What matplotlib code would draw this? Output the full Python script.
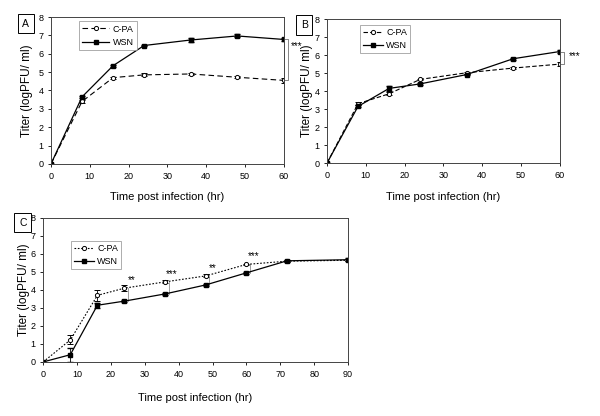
import matplotlib
matplotlib.use('Agg')
import matplotlib.pyplot as plt
from matplotlib.lines import Line2D

plt.rcParams['font.family'] = ['Liberation Sans', 'DejaVu Sans']

# panel A
time_a = [0, 8, 16, 24, 36, 48, 60]
cpa_a = [0, 3.4, 4.7, 4.85, 4.9, 4.72, 4.55]
cpa_a_err = [0, 0.08, 0.05, 0.08, 0.05, 0.05, 0.12]
wsn_a = [0, 3.65, 5.35, 6.45, 6.75, 6.97, 6.78]
wsn_a_err = [0, 0.05, 0.05, 0.05, 0.1, 0.08, 0.08]

# panel B
time_b = [0, 8, 16, 24, 36, 48, 60]
cpa_b = [0, 3.3, 3.85, 4.65, 5.02, 5.28, 5.5]
cpa_b_err = [0, 0.08, 0.08, 0.05, 0.05, 0.05, 0.12]
wsn_b = [0, 3.15, 4.15, 4.4, 4.92, 5.8, 6.2]
wsn_b_err = [0, 0.05, 0.15, 0.05, 0.05, 0.05, 0.08]

# panel C
time_c = [0, 8, 16, 24, 36, 48, 60, 72, 90]
cpa_c = [0, 1.22, 3.7, 4.1, 4.45, 4.78, 5.42, 5.6, 5.65]
cpa_c_err = [0, 0.25, 0.3, 0.15, 0.08, 0.08, 0.05, 0.05, 0.05]
wsn_c = [0, 0.4, 3.15, 3.38, 3.78, 4.28, 4.95, 5.62, 5.68]
wsn_c_err = [0, 0.4, 0.15, 0.05, 0.05, 0.05, 0.05, 0.05, 0.08]
sig_c = {24: '**', 36: '***', 48: '**', 60: '***'}

fig = plt.figure(figsize=(6, 4.16), dpi=100)
ax_a = fig.add_axes([0.085, 0.606, 0.388, 0.353])
ax_b = fig.add_axes([0.545, 0.608, 0.388, 0.346])
ax_c = fig.add_axes([0.072, 0.130, 0.508, 0.346])


def draw(ax, t, cpa, cpa_err, wsn, wsn_err, cpa_style, xmax, xstep,
         ylab_x, xlab_y, leg_anchor, hlen):
    ax.errorbar(t, cpa, yerr=cpa_err, color='black', ls=cpa_style, lw=0.8,
                marker='o', ms=3, mfc='white', mec='black', mew=0.7,
                elinewidth=0.6, capsize=2)
    ax.errorbar(t, wsn, yerr=wsn_err, color='black', ls='-', lw=0.9,
                marker='s', ms=3.5, mfc='black', mec='black',
                elinewidth=0.6, capsize=2)
    ax.set_xlim(0, xmax)
    ax.set_ylim(0, 8)
    ax.set_xticks(range(0, xmax + 1, xstep))
    ax.set_yticks(range(0, 9))
    ax.tick_params(labelsize=6.5, length=2, width=0.6)
    for s in ax.spines.values():
        s.set_linewidth(0.7)
        s.set_color('#444444')
    ax.set_ylabel('Titer (logPFU/ ml)', fontsize=8.5)
    ax.yaxis.set_label_coords(ylab_x, 0.5)
    ax.set_xlabel('Time post infection (hr)', fontsize=8)
    ax.xaxis.set_label_coords(0.5, xlab_y)
    handles = [
        Line2D([], [], color='black', ls=cpa_style, lw=0.8, marker='o', ms=3,
               mfc='white', mec='black', mew=0.7),
        Line2D([], [], color='black', ls='-', lw=0.9, marker='s', ms=3.5,
               mfc='black', mec='black'),
    ]
    leg = ax.legend(handles, ['C-PA', 'WSN'], loc='upper left', fontsize=6.5,
                    frameon=True, fancybox=False, edgecolor='#888888',
                    handlelength=hlen, handletextpad=0.4, borderpad=0.35,
                    labelspacing=0.45, borderaxespad=0,
                    bbox_to_anchor=leg_anchor)
    leg.get_frame().set_linewidth(0.6)


def bracket(ax, x, y1, y2, text, dx, tx, ty):
    ax.plot([x, x + dx, x + dx, x], [y1, y1, y2, y2], color='#555555', lw=0.5,
            clip_on=False)
    ax.text(tx, ty, text, fontsize=7, ha='left', va='center')


draw(ax_a, time_a, cpa_a, cpa_a_err, wsn_a, wsn_a_err, (0, (5, 3)), 60, 10,
     -0.078, -0.193, (0.12, 0.97), 3)
bracket(ax_a, 60, wsn_a[-1], cpa_a[-1], '***', 1.2, 61.8, 6.4)

draw(ax_b, time_b, cpa_b, cpa_b_err, wsn_b, wsn_b_err, (0, (4, 2)), 60, 10,
     -0.06, -0.2, (0.14, 0.96), 2.2)
bracket(ax_b, 60, wsn_b[-1], cpa_b[-1], '***', 1.2, 62.3, 5.95)

draw(ax_c, time_c, cpa_c, cpa_c_err, wsn_c, wsn_c_err, (0, (1.5, 1.5)), 90, 10,
     -0.044, -0.217, (0.09, 0.84), 2.2)
for t, star in sig_c.items():
    i = time_c.index(t)
    ax_c.plot([t + 1, t + 1], [wsn_c[i], cpa_c[i]], color='#777777', lw=0.5)
    ax_c.text(t + 2, cpa_c[i] + 0.45, star, fontsize=7, ha='center', va='center')

box = dict(boxstyle='square,pad=0.45', fc='white', ec='black', lw=0.7)
fig.text(0.043, 0.943, 'A', fontsize=7.5, ha='center', va='center', bbox=box)
fig.text(0.507, 0.94, 'B', fontsize=7.5, ha='center', va='center', bbox=box)
fig.text(0.038, 0.465, 'C', fontsize=7.5, ha='center', va='center', bbox=box)

fig.savefig('out.png', dpi=100)
